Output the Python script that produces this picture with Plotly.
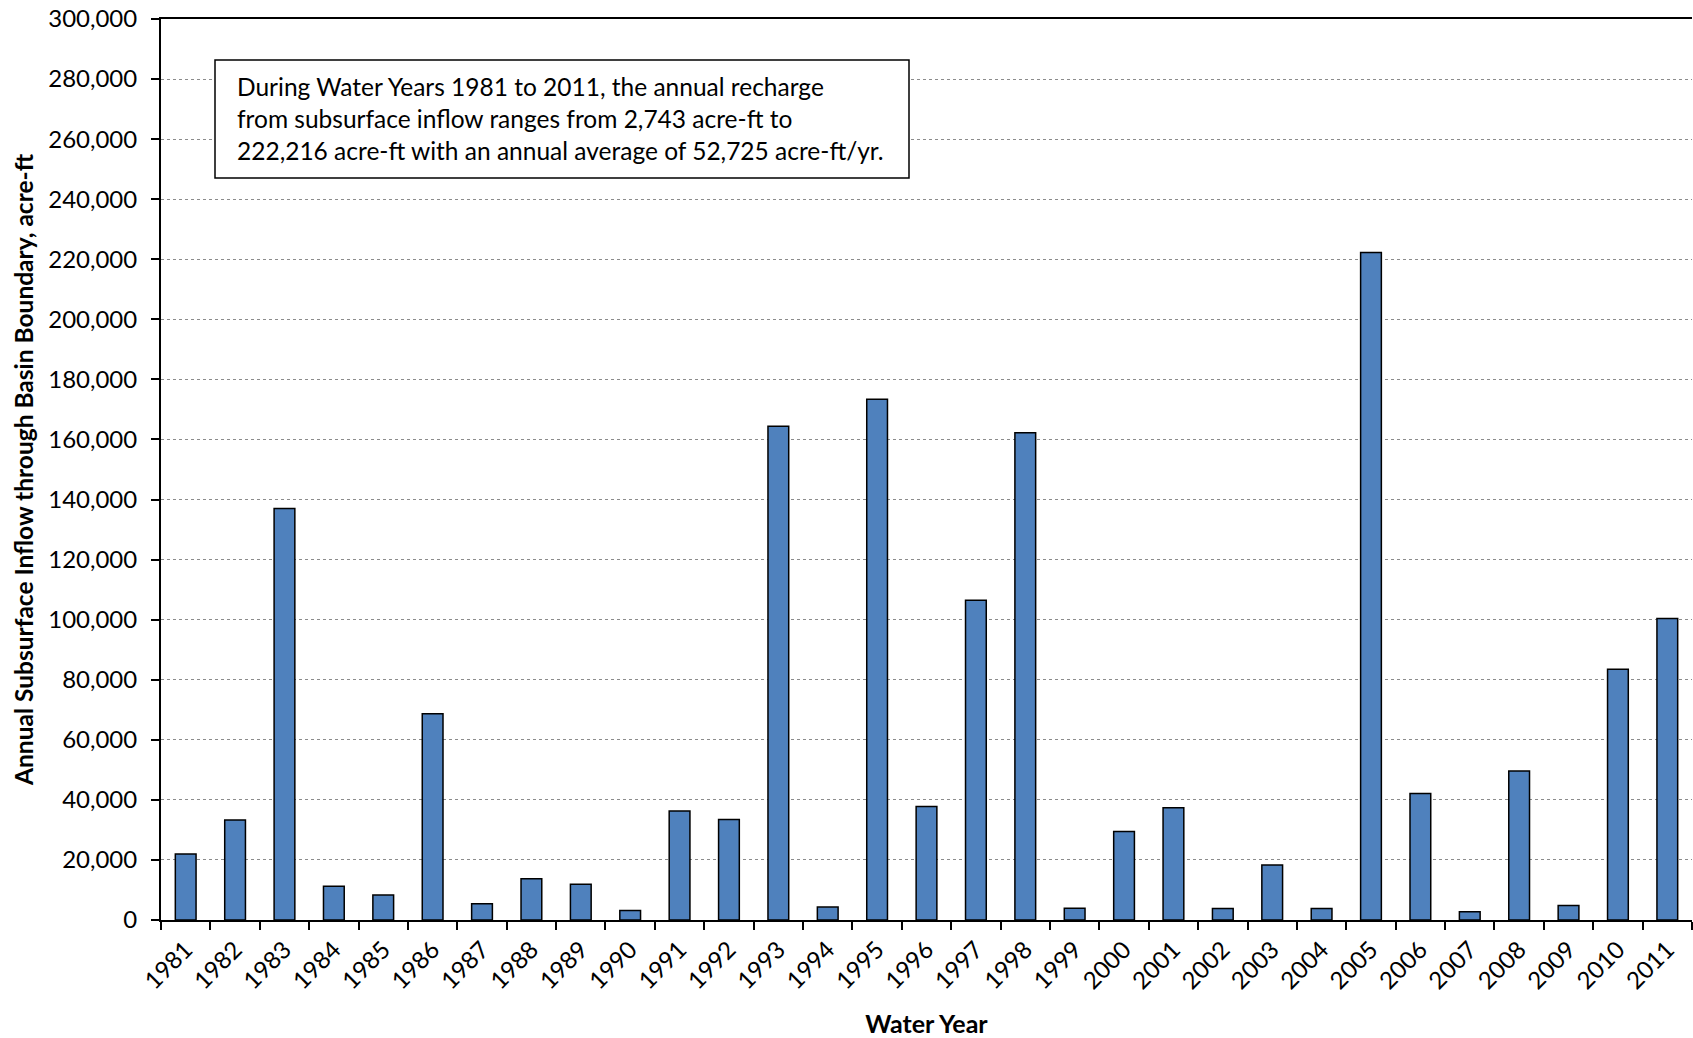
import plotly.graph_objects as go

# Annual subsurface inflow through the basin boundary, water years 1981-2011 (acre-ft)
water_years = [str(y) for y in range(1981, 2012)]
inflow_acre_ft = [
    22000, 33300, 137000, 11200, 8300, 68700, 5400, 13700, 11900, 3200,
    36300, 33500, 164400, 4300, 173400, 37800, 106500, 162200, 3900, 29500,
    37400, 3800, 18300, 3800, 222216, 42100, 2743, 49600, 4800, 83500,
    100400,
]
y_tick_values = list(range(0, 300001, 20000))
y_tick_labels = [f"{v:,}" for v in y_tick_values]

note_lines = [
    "During Water Years 1981 to 2011, the annual recharge",
    "from subsurface inflow ranges from 2,743 acre-ft to",
    "222,216 acre-ft with an annual average of 52,725 acre-ft/yr.",
]

FONT = "Lato"

fig = go.Figure(
    go.Bar(
        x=water_years,
        y=inflow_acre_ft,
        width=0.42,
        marker=dict(color="#4F81BD", line=dict(color="black", width=1.5)),
        showlegend=False,
    )
)

fig.update_layout(
    width=1693,
    height=1038,
    margin=dict(l=161, r=1, t=19, b=118),
    plot_bgcolor="white",
    paper_bgcolor="white",
    font=dict(family=FONT, color="black", size=24),
    xaxis=dict(
        type="category",
        showline=True,
        mirror=True,
        linecolor="black",
        linewidth=2,
        ticks="outside",
        tickson="boundaries",
        ticklen=8,
        tickwidth=2,
        tickcolor="black",
        tickangle=-45,
        tickfont=dict(size=24),
        ticklabelstandoff=4,
        showgrid=False,
        title=dict(text="<b>Water Year</b>", font=dict(size=25), standoff=22),
    ),
    yaxis=dict(
        range=[0, 300000],
        tickvals=y_tick_values,
        ticktext=y_tick_labels,
        showline=True,
        linecolor="black",
        linewidth=2,
        ticks="outside",
        ticklen=8,
        tickwidth=2,
        tickcolor="black",
        tickfont=dict(size=24),
        ticklabelstandoff=9,
        showgrid=True,
        gridcolor="#8c8c8c",
        griddash="dot",
        gridwidth=1,
        zeroline=False,
        title=dict(
            text="<b>Annual Subsurface Inflow through Basin Boundary, acre-ft</b>",
            font=dict(size=24.5),
            standoff=8,
        ),
    ),
)

# Note box in the upper left of the plot area
fig.add_shape(
    type="rect",
    xref="paper", yref="paper",
    x0=(215 - 161) / 1531, x1=(909 - 161) / 1531,
    y0=(920 - 178) / 901, y1=(920 - 60) / 901,
    line=dict(color="black", width=1.5),
    fillcolor="white",
    layer="above",
)
fig.add_annotation(
    xref="paper", yref="paper",
    x=(235 - 161) / 1531, y=(920 - 119) / 901,
    xanchor="left", yanchor="middle",
    align="left",
    showarrow=False,
    text="<br>".join(note_lines),
    font=dict(family=FONT, size=24.5, color="black"),
)

fig.write_html("out.html")
